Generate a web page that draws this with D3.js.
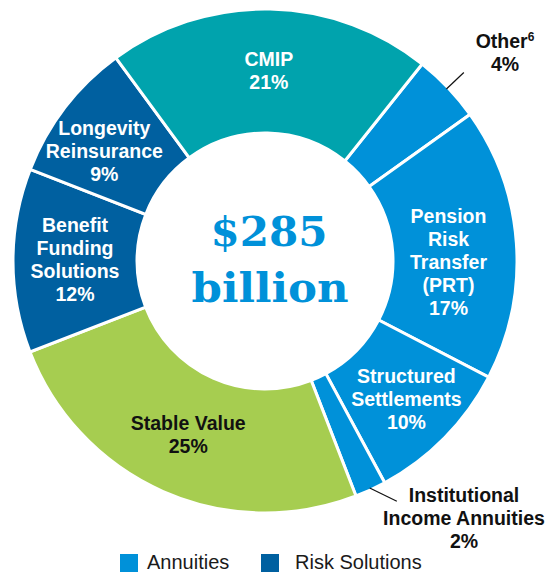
<!DOCTYPE html>
<html>
<head>
<meta charset="utf-8">
<script src="https://cdn.jsdelivr.net/npm/d3@7"></script>
<style>
  html, body { margin: 0; padding: 0; background: #fff; }
  svg { display: block; }
</style>
</head>
<body>
<svg id="chart" width="549" height="574"></svg>
<script>
// ---- data ----
const categories = ["Other", "Pension Risk Transfer (PRT)", "Structured Settlements",
  "Institutional Income Annuities", "Stable Value", "Benefit Funding Solutions",
  "Longevity Reinsurance", "CMIP"];
const values = [4.4, 17.5, 9.5, 2.0, 25.0, 11.8, 9.0, 20.8];
const pctLabels = ["4%", "17%", "10%", "2%", "25%", "12%", "9%", "21%"];
const groups = ["Annuities", "Annuities", "Annuities", "Annuities",
  "Stable Value", "Risk Solutions", "Risk Solutions", "CMIP"];
const labelLines = [["Other"], ["Pension", "Risk", "Transfer", "(PRT)"],
  ["Structured", "Settlements"], ["Institutional", "Income Annuities"],
  ["Stable Value"], ["Benefit", "Funding", "Solutions"],
  ["Longevity", "Reinsurance"], ["CMIP"]];
const centerLines = ["$285", "billion"];
const legendItems = ["Annuities", "Risk Solutions"];

// ---- layout ----
const cx = 265, cy = 261, R = 252, r0 = 128;
const colors = {
  "Annuities": "#0091d9",
  "Risk Solutions": "#0060a0",
  "Stable Value": "#a6cd50",
  "CMIP": "#00a3ad"
};
const textColors = {"Annuities": "#fff", "Risk Solutions": "#fff", "CMIP": "#fff", "Stable Value": "#111"};
const startDeg = 38.6;
const svg = d3.select("#chart");
const g = svg.append("g").attr("transform", `translate(${cx},${cy})`);

const pie = d3.pie().sort(null).value(d => d)
  .startAngle(startDeg * Math.PI / 180)
  .endAngle(startDeg * Math.PI / 180 + 2 * Math.PI);
const arcs = pie(values);
const arc = d3.arc().innerRadius(r0).outerRadius(R);

g.selectAll("path.slice").data(arcs).join("path")
  .attr("class", "slice")
  .attr("d", arc)
  .attr("fill", (d, i) => colors[groups[i]])
  .attr("stroke", "#fff")
  .attr("stroke-width", 3)
  .attr("stroke-linejoin", "miter");

// inner labels
const fs = 19.5, lh = 23;
const inside = [1, 2, 4, 5, 6, 7];
const nudge = {1: [-6, 15], 2: [6, 5], 4: [0, 0], 5: [0, -1], 6: [-10, 6], 7: [0, 0]};
const labelArc = d3.arc().innerRadius(190).outerRadius(190);
inside.forEach(i => {
  const [x0, y0] = labelArc.centroid(arcs[i]);
  const lines = labelLines[i].concat([pctLabels[i]]);
  const x = x0 + nudge[i][0], y = y0 + nudge[i][1];
  const t = g.append("text")
    .attr("text-anchor", "middle")
    .attr("font-family", "'Liberation Sans', Arial, sans-serif")
    .attr("font-weight", "bold")
    .attr("font-size", fs)
    .attr("fill", textColors[groups[i]]);
  lines.forEach((ln, k) => {
    t.append("tspan").attr("x", x)
      .attr("y", y - (lines.length - 1) * lh / 2 + k * lh + fs * 0.35)
      .text(ln);
  });
});

// outside labels with leader lines
function outsideLabel(i, tx, ty, endAngleOffsetDeg, sup) {
  const a = (arcs[i].startAngle + arcs[i].endAngle) / 2;
  const a2 = a + endAngleOffsetDeg * Math.PI / 180;
  const p1 = [250 * Math.sin(a), -250 * Math.cos(a)];
  const p2 = [274 * Math.sin(a2), -274 * Math.cos(a2)];
  g.append("line").attr("x1", p1[0]).attr("y1", p1[1]).attr("x2", p2[0]).attr("y2", p2[1])
    .attr("stroke", "#111").attr("stroke-width", 1.2);
  const lines = labelLines[i].concat([pctLabels[i]]);
  const t = svg.append("text")
    .attr("text-anchor", "middle")
    .attr("font-family", "'Liberation Sans', Arial, sans-serif")
    .attr("font-weight", "bold")
    .attr("font-size", fs)
    .attr("fill", "#111");
  lines.forEach((ln, k) => {
    t.append("tspan").attr("x", tx)
      .attr("y", ty - (lines.length - 1) * lh / 2 + k * lh + fs * 0.35)
      .text(ln);
    if (k === 0 && sup) {
      t.append("tspan").attr("font-size", 12).attr("dy", -7).text(sup);
    }
  });
}
outsideLabel(0, 505, 53, 0, "6");
outsideLabel(3, 464, 518, -4, null);

// center text
const ct = g.append("text")
  .attr("text-anchor", "middle")
  .attr("font-family", "'DejaVu Serif', Georgia, serif")
  .attr("font-weight", "bold")
  .attr("font-size", 41)
  .attr("fill", "#0091d9");
ct.append("tspan").attr("x", 4).attr("y", -15).attr("textLength", 117)
  .attr("lengthAdjust", "spacingAndGlyphs").text(centerLines[0]);
ct.append("tspan").attr("x", 5).attr("y", 41).attr("textLength", 157)
  .attr("lengthAdjust", "spacingAndGlyphs").text(centerLines[1]);

// legend
const lg = svg.append("g");
const legX = [120, 261];
legendItems.forEach((name, i) => {
  lg.append("rect").attr("x", legX[i]).attr("y", 554).attr("width", 18).attr("height", 18)
    .attr("fill", colors[name]);
  lg.append("text").attr("x", legX[i] + (i === 0 ? 27 : 34)).attr("y", 569)
    .attr("font-family", "'Liberation Sans', Arial, sans-serif")
    .attr("font-size", 20).attr("fill", "#1a1a1a").text(name);
});
</script>
</body>
</html>
